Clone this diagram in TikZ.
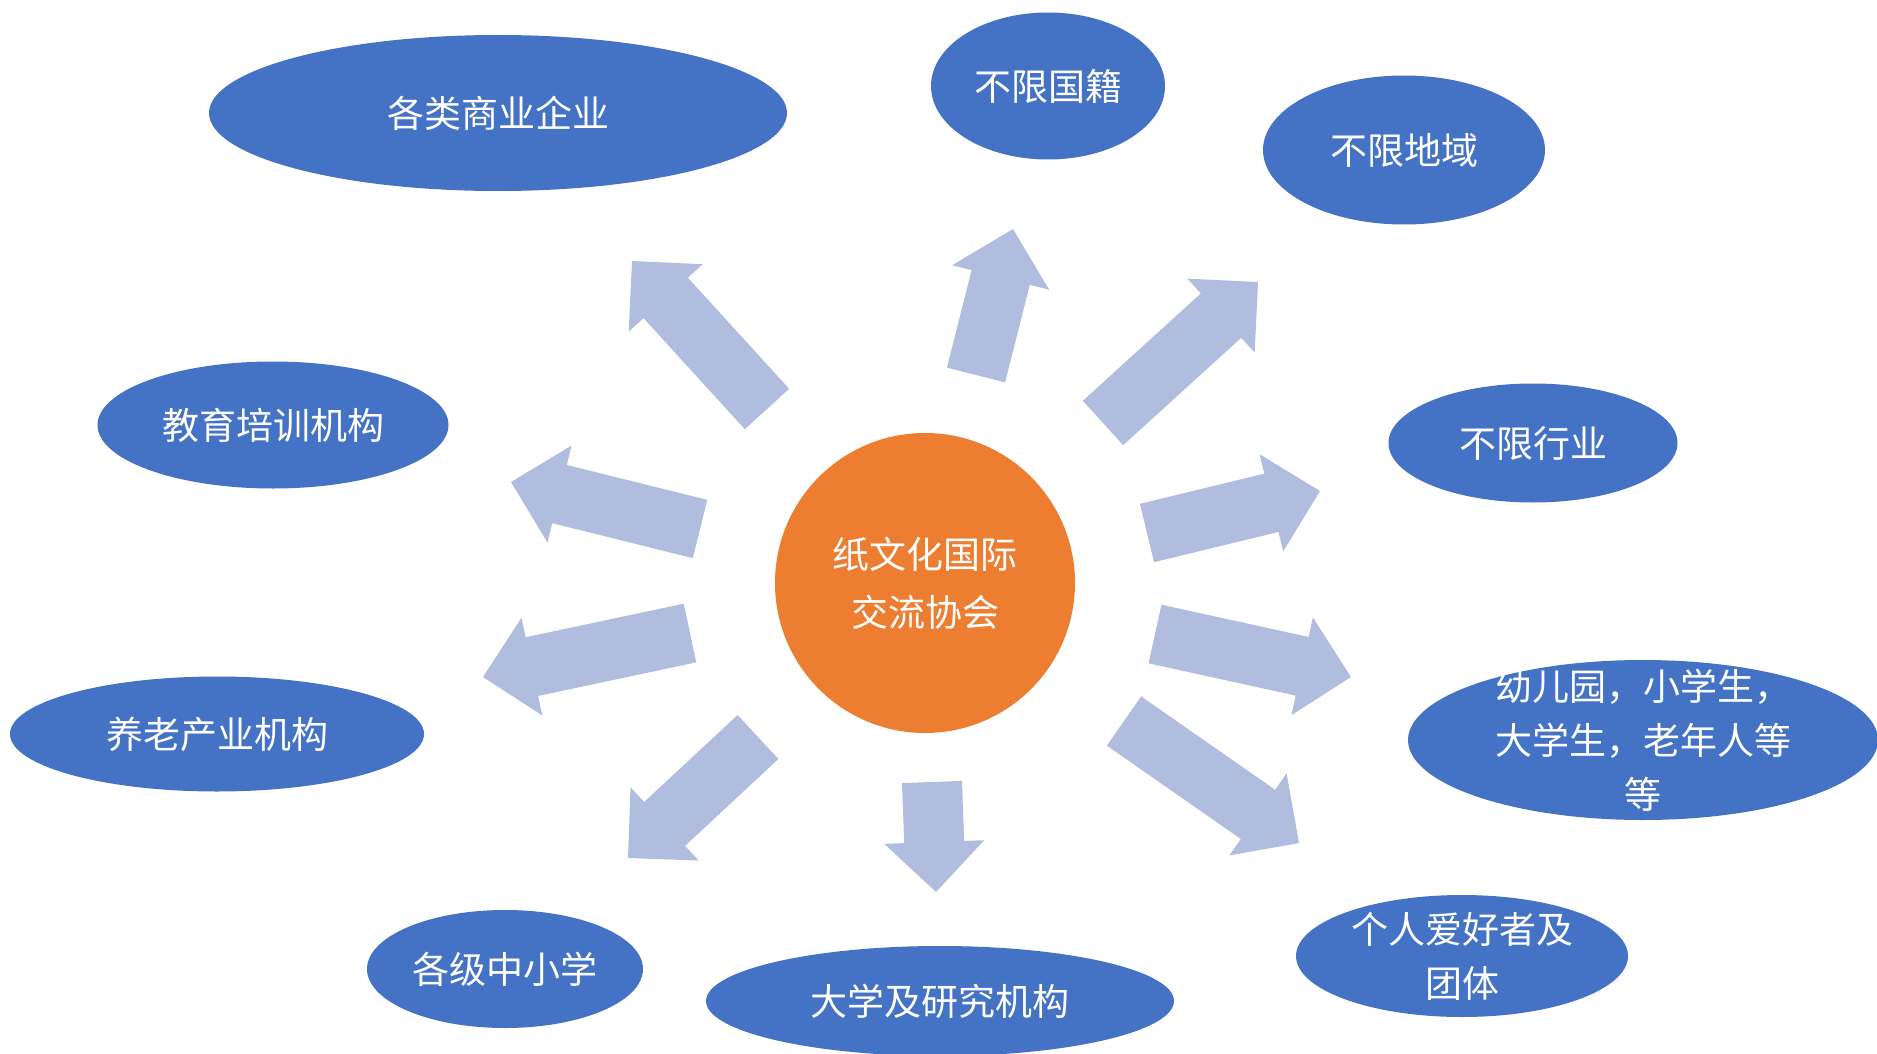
\documentclass[tikz,border=0pt]{standalone}
\usepackage{fontspec}
\setmainfont{Noto Sans CJK SC}
\usetikzlibrary{shapes.geometric, calc}
\definecolor{hubOrange}{RGB}{237,125,49}
\definecolor{bubbleBlue}{RGB}{68,114,196}
\definecolor{arrowBlue}{RGB}{176,189,222}
\tikzset{
  bubble/.style={ellipse, fill=bubbleBlue, inner sep=0pt},
  bubbletext/.style={text=white, align=center, inner sep=0pt, font=\fontsize{37}{54}\selectfont},
  hub/.style={circle, fill=hubOrange, inner sep=0pt, minimum size=300, text=white, align=center, font=\fontsize{37}{58}\selectfont},
}
\newcommand{\blockarrow}[2]{%
  \coordinate (t) at (#1);
  \coordinate (p) at (#2);
  \coordinate (h) at ($(p)!50pt!(t)$);
  \fill[arrowBlue] ($(t)!30pt!90:(p)$) -- ($(h)!30pt!90:(p)$) -- ($(h)!50pt!90:(p)$) -- (p)
    -- ($(h)!50pt!-90:(p)$) -- ($(h)!30pt!-90:(p)$) -- ($(t)!30pt!-90:(p)$) -- cycle;
}
\begin{document}
\begin{tikzpicture}[x=1pt, y=-1pt]
    \useasboundingbox (0,0) rectangle (1877,1054);

    \blockarrow{767,409}{632,261}
    \blockarrow{976,375}{1013,229}
    \blockarrow{1103,423}{1258,282}
    \blockarrow{1147,533}{1320,491}
    \blockarrow{1155,634}{1351,677}
    \blockarrow{1124,721}{1299,843}
    \blockarrow{932,782}{936,892}
    \blockarrow{758,737}{628,858}
    \blockarrow{690,633}{483,677}
    \blockarrow{700,529}{511,482}

    \node[hub] (hub) at (925,583) {纸文化国际\\交流协会};

    \node[bubble, minimum width=578, minimum height=156] (biz) at (498,113) {};
    \node[bubble, minimum width=234, minimum height=147] (nation) at (1048,86) {};
    \node[bubble, minimum width=282, minimum height=149] (region) at (1404,150) {};
    \node[bubble, minimum width=289, minimum height=119] (trade) at (1533,443) {};
    \node[bubble, minimum width=470, minimum height=160] (kids) at (1643,740) {};
    \node[bubble, minimum width=332, minimum height=122] (hobby) at (1462,956) {};
    \node[bubble, minimum width=468, minimum height=110] (univ) at (940,1001) {};
    \node[bubble, minimum width=276, minimum height=118] (school) at (505,969) {};
    \node[bubble, minimum width=414, minimum height=115] (elder) at (217,734) {};
    \node[bubble, minimum width=351, minimum height=127] (edu) at (273,425) {};

    \node[bubbletext] (biz-t) at (biz) {各类商业企业};
    \node[bubbletext] (nation-t) at (nation) {不限国籍};
    \node[bubbletext] (region-t) at (region) {不限地域};
    \node[bubbletext] (trade-t) at (trade) {不限行业};
    \node[bubbletext] (kids-t) at (kids) {幼儿园，小学生，\\大学生，老年人等\\等};
    \node[bubbletext] (hobby-t) at (hobby) {个人爱好者及\\团体};
    \node[bubbletext] (univ-t) at (univ) {大学及研究机构};
    \node[bubbletext] (school-t) at (school) {各级中小学};
    \node[bubbletext] (elder-t) at (elder) {养老产业机构};
    \node[bubbletext] (edu-t) at (edu) {教育培训机构};
\end{tikzpicture}
\end{document}
